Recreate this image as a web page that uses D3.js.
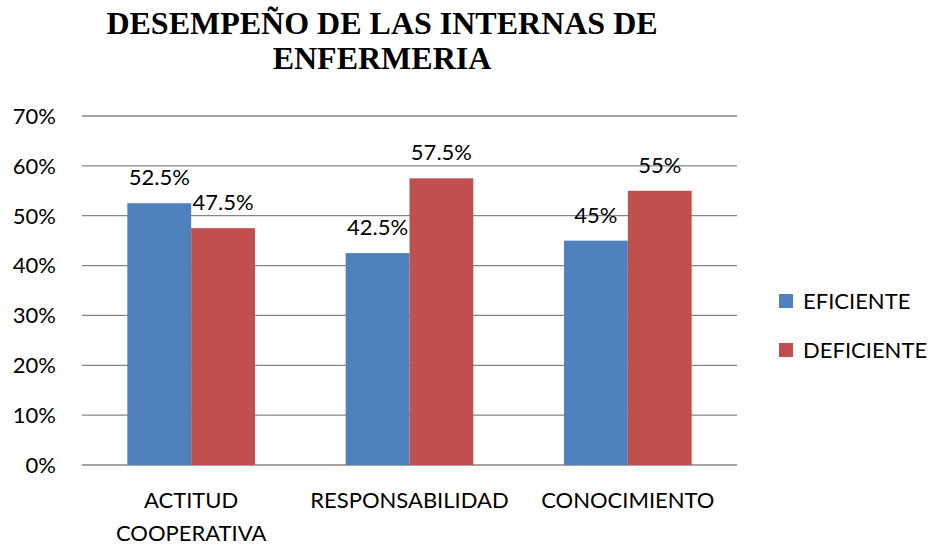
<!DOCTYPE html>
<html>
<head>
<meta charset="utf-8">
<script src="https://cdn.jsdelivr.net/npm/d3@7"></script>
<style>
  body { margin: 0; background: #fff; }
  text { font-family: Lato, "Open Sans", sans-serif; fill: #000; }
</style>
</head>
<body>
<div id="canvas"></div>
<script>
var categories = [["ACTITUD", "COOPERATIVA"], ["RESPONSABILIDAD"], ["CONOCIMIENTO"]]
var seriesNames = ["EFICIENTE", "DEFICIENTE"]
var eficiente = [52.5, 42.5, 45]
var deficiente = [47.5, 57.5, 55]
var labelsEficiente = ["52.5%", "42.5%", "45%"]
var labelsDeficiente = ["47.5%", "57.5%", "55%"]
var yTicks = [0, 10, 20, 30, 40, 50, 60, 70]
var colors = ["#4F81BD", "#C0504D"]

var width = 932
var height = 548
var plotLeft = 82, plotRight = 737, plotTop = 116, plotBottom = 465

var svg = d3.select("#canvas")
    .append("svg")
    .attr("width", width)
    .attr("height", height)

// title
var titleLines = ["DESEMPEÑO DE LAS INTERNAS DE", "ENFERMERIA"]
svg.selectAll(".title")
    .data(titleLines)
    .enter().append("text")
    .attr("x", 382)
    .attr("y", (d, i) => 34 + i * 35)
    .attr("text-anchor", "middle")
    .style("font-family", "'Liberation Serif', 'Times New Roman', serif")
    .style("font-weight", "bold")
    .style("font-size", "32px")
    .text(d => d)

var yScale = d3.scaleLinear().domain([0, 70]).range([plotBottom, plotTop])
var xScale = d3.scaleBand().domain(d3.range(categories.length)).range([plotLeft, plotRight])
var inner = d3.scaleBand().domain(d3.range(2)).range([0, xScale.bandwidth()]).paddingInner(0).paddingOuter(0.71)

// gridlines
svg.selectAll(".grid")
    .data(yTicks)
    .enter().append("line")
    .attr("x1", plotLeft).attr("x2", plotRight)
    .attr("y1", d => yScale(d)).attr("y2", d => yScale(d))
    .attr("stroke", "#868686")
    .attr("stroke-width", 1.3)

svg.selectAll(".ytick")
    .data(yTicks)
    .enter().append("text")
    .attr("x", 56)
    .attr("y", d => yScale(d))
    .attr("dy", "0.36em")
    .attr("text-anchor", "end")
    .style("font-size", "22px")
    .text(d => d + "%")

var series = [eficiente, deficiente]
var labels = [labelsEficiente, labelsDeficiente]

series.forEach(function (vals, s) {
    svg.selectAll(".bar" + s)
        .data(vals)
        .enter().append("rect")
        .attr("x", (d, i) => xScale(i) + inner(s))
        .attr("y", d => yScale(d))
        .attr("width", inner.bandwidth())
        .attr("height", d => plotBottom - yScale(d))
        .attr("fill", colors[s])

    svg.selectAll(".lab" + s)
        .data(vals)
        .enter().append("text")
        .attr("x", (d, i) => xScale(i) + inner(s) + inner.bandwidth() / 2)
        .attr("y", d => yScale(d) - 18)
        .attr("text-anchor", "middle")
        .style("font-size", "22px")
        .text((d, i) => labels[s][i])
})

// category labels
categories.forEach(function (lines, i) {
    lines.forEach(function (line, j) {
        svg.append("text")
            .attr("x", xScale(i) + xScale.bandwidth() / 2)
            .attr("y", 508 + j * 33)
            .attr("text-anchor", "middle")
            .style("font-size", "22px")
            .text(line)
    })
})

// legend
seriesNames.forEach(function (name, s) {
    var ly = 294 + s * 49
    svg.append("rect")
        .attr("x", 779).attr("y", ly)
        .attr("width", 14).attr("height", 14)
        .attr("fill", colors[s])
    svg.append("text")
        .attr("x", 803).attr("y", ly + 15)
        .style("font-size", "22px")
        .text(name)
})
</script>
</body>
</html>
